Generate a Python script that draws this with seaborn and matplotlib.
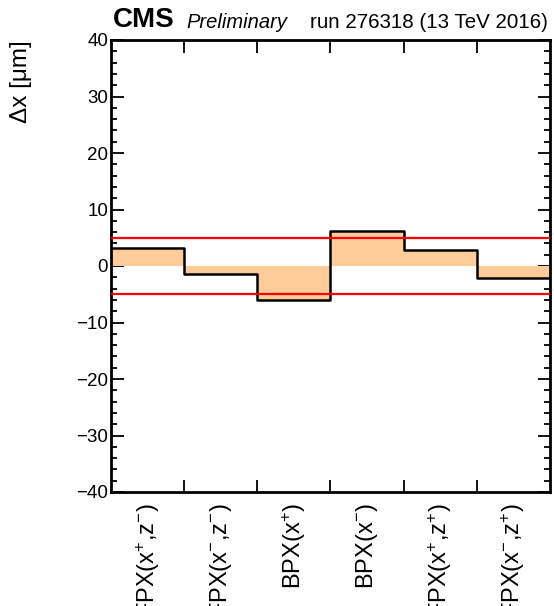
import numpy as np
import matplotlib
matplotlib.use("Agg")
import matplotlib.pyplot as plt
from matplotlib.ticker import MultipleLocator, FixedLocator
import seaborn as sns

# Per-module-group mean shift in x (um)
groups = ["FPX(x$^{+}$,z$^{-}$)", "FPX(x$^{-}$,z$^{-}$)", "BPX(x$^{+}$)",
          "BPX(x$^{-}$)", "FPX(x$^{+}$,z$^{+}$)", "FPX(x$^{-}$,z$^{+}$)"]
shift_x = [3.2, -1.4, -6.1, 6.2, 2.8, -2.1]
tolerance = [5.0, -5.0]
y_range = [-40, 40]

sns.set_theme(style="ticks")
plt.rcParams["font.family"] = ["Liberation Sans", "DejaVu Sans"]
plt.rcParams["mathtext.default"] = "regular"
for key in ("text.color", "axes.labelcolor", "xtick.color", "ytick.color"):
    plt.rcParams[key] = "black"

fig = plt.figure(figsize=(5.54, 6.06), dpi=100)
ax = fig.add_axes([111 / 554, (606 - 492) / 606, 439 / 554, 452 / 606])

fill_col = "#fecc99"
sns.barplot(x=groups, y=shift_x, width=1.0, color=fill_col, saturation=1,
            linewidth=0, ax=ax, zorder=1)

# histogram-style outline across the bin tops
edges = np.arange(len(shift_x) + 1) - 0.5
sns.lineplot(x=edges, y=np.append(shift_x, shift_x[-1]), drawstyle="steps-post",
             color="black", linewidth=1.8, ax=ax, zorder=2, sort=False)

for t in tolerance:
    ax.axhline(t, color="#ff0000", linewidth=1.6, zorder=3)

ax.set_xlim(-0.5, len(shift_x) - 0.5)
ax.set_ylim(*y_range)

# y axis: major every 10, minor every 2, on both sides
ax.yaxis.set_major_locator(MultipleLocator(10))
ax.yaxis.set_minor_locator(MultipleLocator(2))
ax.tick_params(axis="y", which="major", direction="in", length=9, width=1.3,
               left=True, right=True, labelsize=13.5, pad=2)
ax.tick_params(axis="y", which="minor", direction="in", length=4.5, width=1.3,
               left=True, right=True)

# x axis: ticks at bin boundaries, labels at bin centres
ax.xaxis.set_major_locator(FixedLocator(edges[1:-1]))
ax.xaxis.set_minor_locator(FixedLocator(np.arange(len(shift_x))))
ax.tick_params(axis="x", which="major", direction="in", length=9, width=1.3,
               bottom=True, top=True, labelbottom=False)
ax.tick_params(axis="x", which="minor", length=0, bottom=True, top=False,
               labelbottom=True, labelsize=17, pad=8)
ax.set_xticklabels(groups, minor=True, rotation=90, va="top", ha="center")
ax.set_xlabel("")

for sp in ax.spines.values():
    sp.set_visible(True)
    sp.set_linewidth(2.0)
    sp.set_color("black")

ax.set_ylabel("\u0394x [\u03bcm]", fontsize=17.5, loc="top", labelpad=32)

fig.text(113 / 554, 1 - 27 / 606, "CMS", fontsize=20, fontweight="bold",
         ha="left", va="baseline")
fig.text(186 / 554, 1 - 28 / 606, "Preliminary", fontsize=14.5, style="italic",
         ha="left", va="baseline")
fig.text(548 / 554, 1 - 28 / 606, "run 276318 (13 TeV 2016)", fontsize=14.8,
         ha="right", va="baseline")

fig.savefig("out.png", dpi=100)
